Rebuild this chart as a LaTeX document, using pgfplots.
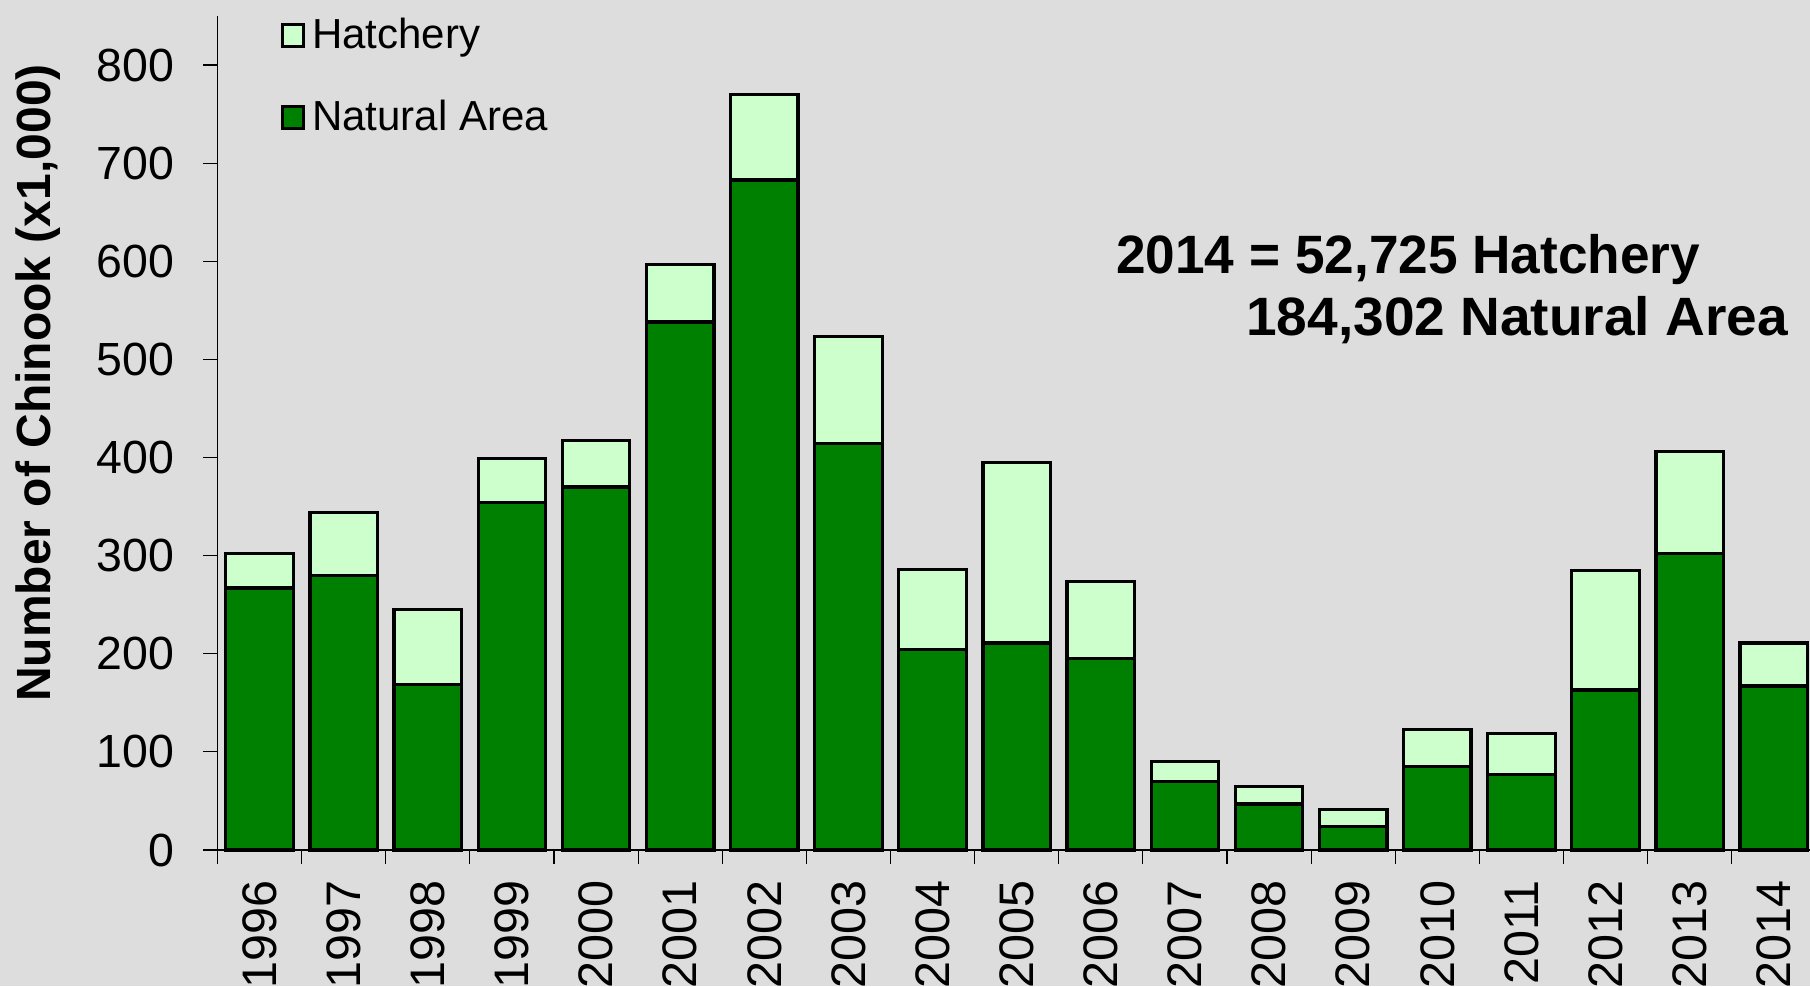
\documentclass[border=0pt]{standalone}
\usepackage{pgfplots}
\pgfplotsset{compat=1.18}
\usepackage{pgfplotstable}
\usepackage{fontspec}
\setmainfont{Liberation Sans}
\usepackage{graphicx}
\definecolor{bg}{RGB}{221,221,221}
\definecolor{natgreen}{RGB}{0,128,0}
\definecolor{hatgreen}{RGB}{204,255,204}

\pgfplotstableread{
x nat hat
0 267 35
1 280 64
2 169 76
3 354 45
4 370 47
5 538 59
6 683 87
7 414 109
8 204 82
9 211 184
10 195 79
11 70 20
12 47 18
13 24 17
14 85 38
15 77 42
16 163 122
17 302 104
18 167 44
}\datatable

\begin{document}
\begin{tikzpicture}[x=1pt,y=1pt]
\path[use as bounding box] (0,0) rectangle (1810,986);
\fill[bg] (0,0) rectangle (1810,986);
\clip (0,0) rectangle (1810,986);
\begin{axis}[
  at={(217.5pt,136pt)}, anchor=south west,
  scale only axis, width=1592.5pt, height=834pt,
  xmin=-0.5, xmax=18.43, ymin=0, ymax=850,
  clip=false,
  ybar stacked, bar width=67.5pt,
  axis lines*=left,
  axis line style={black, line width=1.2pt},
  tick align=outside, tick pos=left,
  major tick length=14pt,
  ytick={0,100,...,800},
  ytick style={black, line width=1.2pt},
  /pgf/number format/assume math mode=true,
  yticklabel style={font=\fontsize{46.5}{46.5}\selectfont, inner sep=0pt, anchor=east},
  yticklabel shift=29pt,
  xtick={0,...,18},
  xticklabels={1996,1997,1998,1999,2000,2001,2002,2003,2004,2005,2006,2007,2008,2009,2010,2011,2012,2013,2014},
  xtick style={draw=none},
  extra x ticks={-0.5,0.5,...,17.5},
  extra x tick labels={},
  extra x tick style={xtick style={draw=black, line width=1.2pt}},
  xticklabel style={font=\fontsize{48.5}{48.5}\selectfont, rotate=90, anchor=east, inner sep=0pt},
  xticklabel shift=16pt,
  reverse legend,
  legend image code/.code={\draw[#1, line width=3pt] (1.5pt,-8pt) rectangle (22.5pt,14pt);},
  legend style={at={(axis description cs:0,1)}, anchor=north west, xshift=63.5pt, yshift=-3pt,
    draw=none, fill=none, inner sep=0pt, outer sep=0pt, row sep=43pt,
    font=\fontsize{42}{42}\selectfont,
    nodes={inner sep=0pt, text height=30pt, text depth=9pt},
    /tikz/every odd column/.append style={column sep=7pt}},
  legend cell align=left,
]
\addplot[fill=natgreen, draw=black, line width=3.3pt] table[x=x, y=nat] {\datatable};
\addlegendentry{Natural Area}
\addplot[fill=hatgreen, draw=black, line width=3.3pt] table[x=x, y=hat] {\datatable};
\addlegendentry{Hatchery}
\end{axis}
\node[anchor=base west, inner sep=0pt, font=\bfseries\fontsize{54}{54}\selectfont] at (1116,712) {\scalebox{0.985}[1.0]{2014 = 52,725 Hatchery}};
\node[anchor=base west, inner sep=0pt, font=\bfseries\fontsize{54}{54}\selectfont] at (1246,650) {\scalebox{1.02}[1.0]{184,302 Natural Area}};
\node[rotate=90, inner sep=0pt, font=\bfseries\fontsize{48}{48}\selectfont] at (38,603) {Number of Chinook (x1,000)};
\end{tikzpicture}
\end{document}
